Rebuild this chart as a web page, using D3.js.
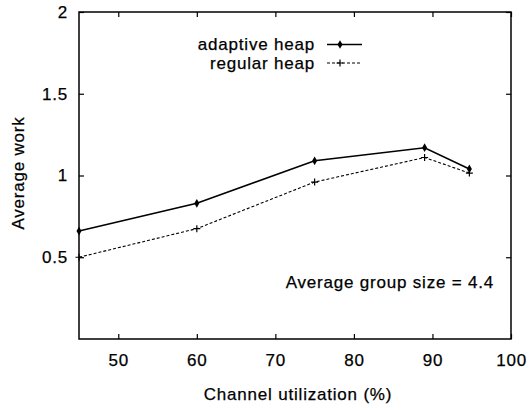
<!DOCTYPE html>
<html>
<head>
<meta charset="utf-8">
<script src="https://cdn.jsdelivr.net/npm/d3@7"></script>
<style>
  body { margin: 0; background: #fff; }
  text { font-family: "Liberation Sans", Arial, sans-serif; fill: #000; stroke: #000; stroke-width: 0.25px; }
</style>
</head>
<body>
<svg id="chart" width="529" height="410"></svg>
<script>
// data
var utilization = [45, 60, 75, 89, 94.7];
var adaptiveHeap = [0.66, 0.83, 1.09, 1.17, 1.04];
var regularHeap = [0.50, 0.675, 0.96, 1.11, 1.015];
var xTicks = [50, 60, 70, 80, 90, 100];
var yTicks = [0.5, 1, 1.5, 2];

var svg = d3.select("#chart");
var plotLeft = 79, plotRight = 511, plotTop = 12, plotBottom = 339;

var xScale = d3.scaleLinear().domain([45, 100]).range([plotLeft, plotRight]);
var yScale = d3.scaleLinear().domain([0, 2]).range([plotBottom, plotTop]);

var fontSize = "17px", spacing = "0.8px";

// frame
svg.append("rect")
    .attr("x", plotLeft).attr("y", plotTop)
    .attr("width", plotRight - plotLeft).attr("height", plotBottom - plotTop)
    .attr("fill", "none").attr("stroke", "#000").attr("stroke-width", 1.5);

// ticks on all four sides, pointing in
var tl = 5;
svg.append("g")
    .attr("transform", "translate(0," + plotBottom + ")")
    .call(d3.axisBottom(xScale).tickValues(xTicks).tickSize(-tl).tickPadding(tl + 10).tickFormat(d3.format("d")))
    .call(g => g.select(".domain").remove())
    .call(g => g.selectAll("text").style("font-size", fontSize).style("letter-spacing", spacing).attr("font-family", null));
svg.append("g")
    .attr("transform", "translate(0," + plotTop + ")")
    .call(d3.axisTop(xScale).tickValues(xTicks).tickSize(-tl).tickFormat(""))
    .call(g => g.select(".domain").remove());
svg.append("g")
    .attr("transform", "translate(" + plotLeft + ",0)")
    .call(d3.axisLeft(yScale).tickValues(yTicks).tickSize(-tl).tickPadding(tl + 6).tickFormat(d => d))
    .call(g => g.select(".domain").remove())
    .call(g => g.selectAll("text").style("font-size", fontSize).style("letter-spacing", spacing).attr("font-family", null));
svg.append("g")
    .attr("transform", "translate(" + plotRight + ",0)")
    .call(d3.axisRight(yScale).tickValues(yTicks).tickSize(-tl).tickFormat(""))
    .call(g => g.select(".domain").remove());
svg.selectAll(".tick line").attr("stroke-width", 1.2);

// lines
var line = d3.line()
    .x((d, i) => xScale(utilization[i]))
    .y(d => yScale(d));

svg.append("path")
    .datum(adaptiveHeap)
    .attr("d", line)
    .attr("fill", "none").attr("stroke", "#000").attr("stroke-width", 1.6);

svg.append("path")
    .datum(regularHeap)
    .attr("d", line)
    .attr("fill", "none").attr("stroke", "#000").attr("stroke-width", 1.1)
    .attr("stroke-dasharray", "3,2");

var diamond = d3.symbol().type(d3.symbolDiamond).size(22);
svg.selectAll(".pa")
    .data(adaptiveHeap)
    .enter().append("path")
    .attr("class", "pa")
    .attr("d", diamond)
    .attr("transform", (d, i) => "translate(" + xScale(utilization[i]) + "," + yScale(d) + ")")
    .attr("fill", "#000");

function plus(x, y) {
    return "M" + (x - 3.5) + "," + y + "H" + (x + 3.5) + "M" + x + "," + (y - 3.5) + "V" + (y + 3.5);
}
svg.selectAll(".pr")
    .data(regularHeap)
    .enter().append("path")
    .attr("class", "pr")
    .attr("d", (d, i) => plus(xScale(utilization[i]), yScale(d)))
    .attr("stroke", "#000").attr("stroke-width", 1.2);

// legend
var legend = svg.append("g");
legend.append("text")
    .attr("x", 315).attr("y", 50)
    .attr("text-anchor", "end")
    .style("font-size", fontSize).style("letter-spacing", spacing)
    .text("adaptive heap");
legend.append("line")
    .attr("x1", 327).attr("x2", 362).attr("y1", 44.5).attr("y2", 44.5)
    .attr("stroke", "#000").attr("stroke-width", 1.6);
legend.append("path")
    .attr("d", diamond)
    .attr("transform", "translate(340,44.5)");
legend.append("text")
    .attr("x", 315).attr("y", 68.5)
    .attr("text-anchor", "end")
    .style("font-size", fontSize).style("letter-spacing", spacing)
    .text("regular heap");
legend.append("line")
    .attr("x1", 327).attr("x2", 362).attr("y1", 63).attr("y2", 63)
    .attr("stroke", "#000").attr("stroke-width", 1.1)
    .attr("stroke-dasharray", "3,2");
legend.append("path")
    .attr("d", plus(340, 63))
    .attr("stroke", "#000").attr("stroke-width", 1.2);

// annotation
svg.append("text")
    .attr("x", 494).attr("y", 288)
    .attr("text-anchor", "end")
    .style("font-size", fontSize).style("letter-spacing", spacing)
    .text("Average group size = 4.4");

// axis titles
svg.append("text")
    .attr("x", 298).attr("y", 400)
    .attr("text-anchor", "middle")
    .style("font-size", fontSize).style("letter-spacing", spacing)
    .text("Channel utilization (%)");

svg.append("text")
    .attr("transform", "translate(24,173) rotate(-90)")
    .attr("text-anchor", "middle")
    .style("font-size", fontSize).style("letter-spacing", spacing)
    .text("Average work");
</script>
</body>
</html>
